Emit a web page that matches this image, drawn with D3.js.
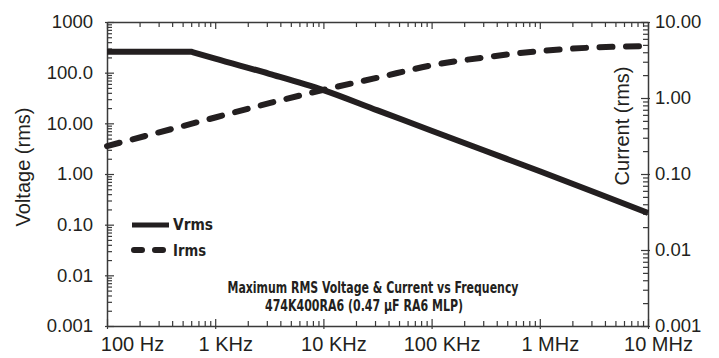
<!DOCTYPE html>
<html>
<head>
<meta charset="utf-8">
<script src="https://cdn.jsdelivr.net/npm/d3@7"></script>
<style>
  body { margin: 0; background: #fff; }
  svg { display: block; }
  .tick text { font-family: "Liberation Sans", Arial, sans-serif; fill: #231f20; }
  .domain { stroke: #3a3a3a; stroke-width: 1.5; }
  .tick line { stroke: #3a3a3a; stroke-width: 1.2; }
  .narrow { font-family: "Liberation Sans Narrow", "Arial Narrow", "DejaVu Sans Condensed", sans-serif; font-weight: bold; fill: #231f20; }
</style>
</head>
<body>
<svg width="719" height="358"></svg>
<script>
// voltage curve (left axis), flat until the knee
const vFreq = [100, 600, 1e3, 3162, 1e4, 31623, 1e5, 316228, 1e6, 3162278, 1e7];
const vrms  = [259, 259, 189, 95, 45.3, 18.0, 7.16, 2.84, 1.13, 0.441, 0.170];

// current curve (right axis)
const iFreq = [100, 1e3, 3162, 1e4, 31623, 1e5, 316228, 1e6, 3162278, 1e7];
const irms  = [0.233, 0.554, 0.855, 1.28, 1.85, 2.69, 3.44, 4.14, 4.62, 4.83];

// axis ticks
const xTicks = [1e2, 1e3, 1e4, 1e5, 1e6, 1e7];
const xLabels = ['100 Hz', '1 KHz', '10 KHz', '100 KHz', '1 MHz', '10 MHz'];
const yLeftTicks = [1e-3, 1e-2, 1e-1, 1, 10, 100, 1000];
const yLeftLabels = ['0.001', '0.01', '0.10', '1.00', '10.00', '100.0', '1000'];
const yRightTicks = [1e-3, 1e-2, 1e-1, 1, 10];
const yRightLabels = ['0.001', '0.01', '0.10', '1.00', '10.00'];

const titleLines = ['Maximum RMS Voltage & Current vs Frequency', '474K400RA6 (0.47 \u00b5F RA6 MLP)'];

const plotL = 107, plotR = 648, plotT = 22, plotB = 326;
const ink = '#231f20';

const svg = d3.select('svg');

const x = d3.scaleLog().domain([100, 1e7]).range([plotL, plotR]);
const yL = d3.scaleLog().domain([1e-3, 1e3]).range([plotB, plotT]);
const yR = d3.scaleLog().domain([1e-3, 10]).range([plotB, plotT]);

// minor ticks: 2..9 in each decade
function minors(domain){
    const out = [];
    for (let p = Math.round(Math.log10(domain[0])); p < Math.round(Math.log10(domain[1])); p++) {
        for (let m = 2; m <= 9; m++) out.push(m * Math.pow(10, p));
    }
    return out;
}

// minor tick axes (no labels)
svg.append('g').attr('transform', `translate(0,${plotB})`)
    .call(d3.axisBottom(x).tickValues(minors(x.domain())).tickSize(-5).tickFormat(''))
    .call(g => g.select('.domain').remove());
svg.append('g').attr('transform', `translate(0,${plotT})`)
    .call(d3.axisTop(x).tickValues(minors(x.domain())).tickSize(-5).tickFormat(''))
    .call(g => g.select('.domain').remove());
svg.append('g').attr('transform', `translate(${plotL},0)`)
    .call(d3.axisLeft(yL).tickValues(minors(yL.domain())).tickSize(-5).tickFormat(''))
    .call(g => g.select('.domain').remove());
svg.append('g').attr('transform', `translate(${plotR},0)`)
    .call(d3.axisRight(yR).tickValues(minors(yR.domain())).tickSize(-5).tickFormat(''))
    .call(g => g.select('.domain').remove());

// major axes with labels
const xAxis = svg.append('g').attr('transform', `translate(0,${plotB})`)
    .call(d3.axisBottom(x).tickValues(xTicks).tickSizeInner(-7).tickSizeOuter(0)
        .tickPadding(11).tickFormat((d, i) => xLabels[i]));
xAxis.selectAll('.tick line').attr('y1', 3);
xAxis.selectAll('.tick text').style('font-size', '20px')
    .attr('dx', (d, i) => i === 0 ? 25 : 10);

svg.append('g').attr('transform', `translate(0,${plotT})`)
    .call(d3.axisTop(x).tickValues(xTicks).tickSizeInner(-7).tickSizeOuter(0).tickFormat(''));

const yAxisL = svg.append('g').attr('transform', `translate(${plotL},0)`)
    .call(d3.axisLeft(yL).tickValues(yLeftTicks).tickSizeInner(-7).tickSizeOuter(0)
        .tickPadding(14).tickFormat((d, i) => yLeftLabels[i]));
yAxisL.selectAll('.tick line').attr('x1', -2);
yAxisL.selectAll('.tick text').style('font-size', '18.5px');

const yAxisR = svg.append('g').attr('transform', `translate(${plotR},0)`)
    .call(d3.axisRight(yR).tickValues(yRightTicks).tickSizeInner(-7).tickSizeOuter(0)
        .tickPadding(7).tickFormat((d, i) => yRightLabels[i]));
yAxisR.selectAll('.tick line').attr('x1', 2);
yAxisR.selectAll('.tick text').style('font-size', '18.5px');

// axis titles
svg.append('text')
    .attr('transform', 'translate(30,167) rotate(-90)')
    .attr('text-anchor', 'middle')
    .style('font-family', '"Liberation Sans", Arial, sans-serif')
    .style('font-size', '20px').style('fill', ink)
    .text('Voltage (rms)');
svg.append('text')
    .attr('transform', 'translate(629,126) rotate(-90)')
    .attr('text-anchor', 'middle')
    .style('font-family', '"Liberation Sans", Arial, sans-serif')
    .style('font-size', '20px').style('fill', ink)
    .text('Current (rms)');

// curves
// flat part stays straight, the roll-off after the knee is smoothed
const vPts = vrms.map((v, i) => [x(vFreq[i]), yL(v)]);
const vSmooth = d3.line().curve(d3.curveMonotoneX)(vPts.slice(1));
svg.append('path')
    .attr('d', `M${vPts[0][0]},${vPts[0][1]}L` + vSmooth.slice(1))
    .attr('fill', 'none').attr('stroke', ink)
    .attr('stroke-width', 6).attr('stroke-linejoin', 'round');

const iLine = d3.line().x((d, i) => x(iFreq[i])).y(d => yR(d)).curve(d3.curveMonotoneX);
svg.append('path').datum(irms)
    .attr('d', iLine)
    .attr('fill', 'none').attr('stroke', ink)
    .attr('stroke-width', 6).attr('stroke-linecap', 'round')
    .attr('stroke-dasharray', '13,13.5');

// legend
const legend = svg.append('g').attr('transform', 'translate(132,225)');
legend.append('line').attr('x1', 0).attr('x2', 37).attr('y1', 0).attr('y2', 0)
    .attr('stroke', ink).attr('stroke-width', 5);
legend.append('text').attr('class', 'narrow').attr('x', 41).attr('y', 5)
    .attr('textLength', 40).attr('lengthAdjust', 'spacingAndGlyphs')
    .style('font-size', '16px').text('Vrms');
legend.append('line').attr('x1', 2).attr('x2', 34).attr('y1', 25).attr('y2', 25)
    .attr('stroke', ink).attr('stroke-width', 6).attr('stroke-linecap', 'round')
    .attr('stroke-dasharray', '8,13');
legend.append('text').attr('class', 'narrow').attr('x', 41).attr('y', 31)
    .attr('textLength', 33).attr('lengthAdjust', 'spacingAndGlyphs')
    .style('font-size', '16px').text('Irms');

// chart title
const titleWidths = [291, 198];
svg.selectAll('text.title').data(titleLines).enter()
    .append('text').attr('class', 'title narrow')
    .attr('x', (d, i) => i === 0 ? 373 : 364)
    .attr('y', (d, i) => 293 + i * 18)
    .attr('text-anchor', 'middle')
    .attr('textLength', (d, i) => titleWidths[i])
    .attr('lengthAdjust', 'spacingAndGlyphs')
    .style('font-size', '15px')
    .text(d => d);
</script>
</body>
</html>
